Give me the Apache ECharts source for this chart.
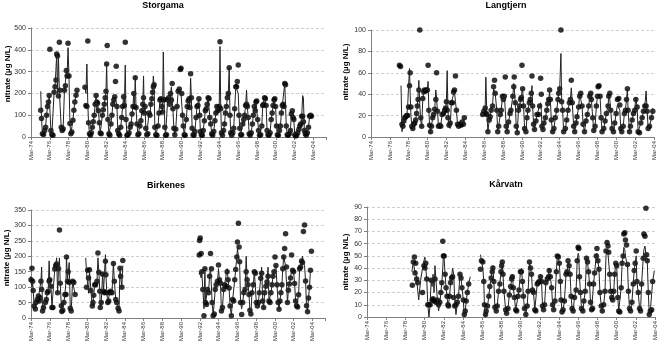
<!DOCTYPE html>
<html><head><meta charset="utf-8">
<script src="https://cdn.jsdelivr.net/npm/echarts@6/dist/echarts.min.js"></script>
<style>html,body{margin:0;padding:0;background:#fff}#c{width:658px;height:351px}</style>
</head><body><div id="c"></div><script>
const xTickLabels = ['Mar-74','Mar-76','Mar-78','Mar-80','Mar-82','Mar-84','Mar-86','Mar-88','Mar-90','Mar-92','Mar-94','Mar-96','Mar-98','Mar-00','Mar-02','Mar-04'];
const panelTitles = ['Storgama','Langtjern','Birkenes','Kårvatn'];
const yAxisTitle = 'nitrate (µg N/L)';

// ---------- Storgama ----------
const storgamaT = [
1975.20,1975.28,1975.38,1975.50,1975.62,1975.72,1975.82,1975.92,1976.02,1976.10,1976.17,1976.28,1976.38,1976.50,
1976.62,1976.72,1976.82,1976.90,1976.98,1977.08,1977.18,1977.25,1977.38,1977.48,1977.58,1977.72,1977.82,1977.92,1978.00,1978.10,1978.20,1978.30,1978.40,1978.50,1978.62,1978.72,1978.82,1978.95,1979.05,1979.50,
1979.90,1980.00,1980.10,1980.20,1980.28,1980.38,1980.48,1980.58,1980.68,1980.78,1980.88,1980.98,1981.08,1981.16,1981.24,1981.32,1981.42,1981.52,1981.62,1981.75,1981.85,1981.95,1982.05,1982.13,1982.20,1982.26,1982.34,1982.44,1982.54,
1982.66,1982.76,1982.86,1982.96,1983.06,1983.14,1983.22,1983.30,1983.38,1983.48,1983.58,1983.70,1983.80,1983.90,1984.00,1984.08,1984.18,1984.26,1984.36,1984.46,1984.58,
1984.70,1984.80,1984.90,1985.00,1985.08,1985.16,1985.24,1985.32,1985.42,1985.52,1985.62,1985.74,1985.84,1985.94,1986.04,1986.12,1986.20,1986.28,1986.36,1986.46,1986.58,
1986.70,1986.80,1986.90,1987.00,1987.08,1987.16,1987.24,1987.32,1987.42,1987.54,1987.66,1987.76,1987.86,1987.96,1988.06,1988.14,1988.22,1988.30,1988.38,1988.46,1988.56,
1988.68,1988.78,1988.88,1988.98,1989.08,1989.16,1989.24,1989.34,1989.44,1989.54,1989.68,1989.80,1989.92,1990.02,1990.10,1990.18,1990.26,1990.34,1990.44,1990.54,
1990.66,1990.76,1990.86,1990.96,1991.04,1991.12,1991.20,1991.28,1991.38,1991.48,1991.58,1991.70,1991.80,1991.90,1992.00,1992.08,1992.16,1992.26,1992.36,1992.46,
1992.58,1992.68,1992.78,1992.88,1992.98,1993.08,1993.16,1993.26,1993.36,1993.46,1993.58,1993.70,1993.80,1993.90,1994.00,1994.08,1994.16,1994.24,1994.32,1994.40,1994.50,
1994.62,1994.72,1994.82,1994.92,1995.02,1995.12,1995.22,1995.30,1995.38,1995.48,1995.60,1995.70,1995.80,1995.92,1996.00,1996.08,1996.18,1996.26,1996.34,1996.44,1996.54,
1996.66,1996.76,1996.86,1996.96,1997.06,1997.14,1997.24,1997.34,1997.44,1997.56,1997.68,1997.78,1997.88,1997.98,1998.06,1998.14,1998.24,1998.34,1998.44,1998.56,
1998.68,1998.78,1998.88,1998.98,1999.06,1999.14,1999.24,1999.34,1999.44,1999.56,1999.68,1999.78,1999.88,1999.98,2000.06,2000.14,2000.24,2000.34,2000.44,
2000.56,2000.66,2000.76,2000.86,2000.96,2001.04,2001.12,2001.20,2001.28,2001.38,2001.48,2001.60,2001.72,2001.82,2001.92,2002.00,2002.08,2002.18,2002.28,2002.38,
2002.50,2002.62,2002.72,2002.82,2002.92,2003.02,2003.10,2003.20,2003.30,2003.40,2003.52,2003.64,2003.76,2003.86,2003.95];
const storgamaObs = [
123,85,15,12,30,45,100,140,160,190,403,30,12,8,
205,231,262,381,372,188,435,215,45,30,38,215,235,305,280,430,280,62,15,23,77,123,161,192,215,null,
228,145,140,440,65,15,8,20,45,70,100,150,190,160,155,120,65,18,15,100,125,150,180,210,335,420,80,15,8,
60,100,150,170,185,255,325,140,30,15,8,45,90,140,185,145,435,80,8,10,20,
45,60,105,140,200,140,272,135,60,10,15,50,75,120,150,180,110,140,40,10,15,
110,100,150,175,205,230,240,45,10,8,50,110,170,175,140,115,170,172,45,8,10,
170,180,150,200,170,245,130,40,10,35,140,210,220,310,315,200,100,50,10,8,
80,140,165,175,135,290,180,40,10,8,25,90,140,145,175,100,25,10,8,30,
75,120,130,150,180,175,90,60,15,8,25,75,110,140,120,130,140,437,130,20,8,
30,60,110,140,180,200,318,100,20,8,20,40,130,230,230,255,330,100,40,10,10,
60,80,100,145,150,140,90,15,8,20,60,100,140,120,160,165,80,30,8,10,
50,145,150,180,175,145,30,10,8,20,80,110,145,170,175,140,50,10,8,
30,50,110,145,150,140,245,240,50,10,8,15,30,105,120,90,80,10,5,8,
20,35,50,60,95,95,70,30,15,8,20,45,95,100,95];
const storgamaSim = [
210,90,15,10,30,50,100,140,160,190,190,30,10,8,
205,231,240,380,200,370,210,215,40,30,40,215,250,300,280,410,280,60,15,20,77,123,161,192,215,null,
228,200,335,150,65,15,8,20,45,70,100,150,190,120,155,130,65,18,15,100,125,150,180,210,335,210,80,15,8,
60,100,150,170,185,180,160,140,30,15,8,45,90,140,185,145,330,80,8,10,20,
45,60,105,140,200,140,280,135,60,10,15,50,75,120,150,280,110,140,40,10,15,
110,100,150,175,205,280,240,45,10,8,50,110,170,175,140,115,390,172,45,8,10,
170,180,150,200,230,170,130,40,10,35,140,210,220,220,200,200,100,50,10,8,
80,140,165,175,135,270,180,40,10,8,25,90,140,145,175,100,25,10,8,30,
75,120,130,150,180,175,90,60,15,8,25,75,110,140,120,130,140,415,130,20,8,
30,60,110,140,180,200,320,100,20,8,20,40,130,230,225,230,200,100,40,10,10,
60,80,100,145,215,140,90,15,8,20,60,100,140,120,160,165,80,30,8,10,
50,145,150,180,175,145,30,10,8,20,80,110,145,170,175,140,50,10,8,
30,50,110,145,150,140,245,240,50,10,8,15,30,105,120,90,80,10,5,8,
20,35,50,60,95,190,180,30,15,8,20,45,95,110,100];

// ---------- Langtjern ----------
const langtjernT = [
1977.18,1977.30,1977.35,1977.45,1977.55,1977.65,1977.75,1977.85,1977.95,1978.05,1978.15,1978.25,1978.32,1978.40,1978.50,1978.60,1978.70,1978.80,1978.90,
1979.00,1979.08,1979.16,1979.24,1979.34,1979.44,1979.54,1979.66,1979.76,1979.84,1979.94,1980.04,1980.14,1980.22,1980.30,1980.38,1980.48,1980.58,1980.70,1980.80,1980.92,
1981.04,1981.12,1981.22,1981.32,1981.44,1981.56,1981.70,1981.86,1981.98,1982.08,1982.16,1982.24,1982.32,1982.44,1982.56,1982.68,1982.80,1982.92,
1983.02,1983.12,1983.22,1983.34,1983.46,1983.58,1983.70,1983.82,1983.96,1984.06,1985.00,
1986.00,1986.13,1986.27,1986.34,1986.45,1986.56,1986.70,1986.80,1986.90,1987.05,1987.16,1987.26,1987.33,1987.50,1987.60,1987.70,1987.87,1987.97,
1988.10,1988.20,1988.30,1988.40,1988.50,1988.60,1988.75,1988.90,1989.00,1989.20,1989.30,1989.35,1989.46,1989.56,1989.67,1989.80,1989.92,
1990.03,1990.10,1990.17,1990.24,1990.34,1990.45,1990.59,1990.70,1990.80,1990.95,1991.05,1991.16,1991.23,1991.30,1991.40,1991.50,1991.65,1991.76,1991.94,
1992.04,1992.15,1992.22,1992.29,1992.40,1992.50,1992.65,1992.80,1992.90,1993.00,1993.10,1993.18,1993.28,1993.42,1993.56,1993.70,1993.85,1993.99,
1994.06,1994.17,1994.30,1994.38,1994.48,1994.59,1994.77,1994.91,1995.05,1995.20,1995.30,1995.40,1995.50,1995.65,1995.76,1995.90,
1996.00,1996.18,1996.29,1996.40,1996.54,1996.65,1996.80,1996.96,1997.10,1997.25,1997.35,1997.46,1997.53,1997.67,1997.78,1997.92,
1998.06,1998.17,1998.24,1998.34,1998.45,1998.56,1998.66,1998.84,1998.98,1999.12,1999.30,1999.37,1999.48,1999.58,1999.72,1999.87,
2000.00,2000.15,2000.29,2000.43,2000.54,2000.65,2000.75,2000.90,2001.03,2001.14,2001.25,2001.35,2001.42,2001.57,2001.67,2001.85,2001.99,
2002.13,2002.24,2002.38,2002.48,2002.63,2002.77,2002.91,2003.05,2003.19,2003.33,2003.44,2003.55,2003.69,2003.90,2004.04];
const langtjernObs = [
67,66,null,12,10,15,18,19,20,20,28,48,60,28,10,8,12,13,16,
22,29,35,44,100,18,10,36,42,44,43,44,44,67,25,11,5,10,18,21,26,
35,60,24,10,11,10,21,22,25,27,33,25,18,11,13,32,32,42,
44,57,25,12,10,12,11,14,12,18,null,
21,24,27,22,21,5,16,19,25,29,47,53,41,25,5,10,21,25,
38,35,38,56,10,5,14,22,25,38,47,56,32,10,4,25,29,
35,37,67,45,29,8,5,18,25,32,35,41,57,29,12,7,15,21,21,
29,55,40,10,7,13,18,25,31,35,44,35,16,5,8,18,25,35,
41,45,100,33,25,5,8,16,25,32,35,53,32,10,5,13,
19,28,38,41,29,12,5,15,21,29,38,41,35,18,6,10,
29,38,47,48,38,18,5,8,15,22,29,38,41,25,8,5,
13,22,35,36,30,8,5,10,22,25,35,45,25,5,10,16,22,
25,35,28,5,4,13,18,24,29,29,24,8,10,18,24];
const langtjernSim = [
null,null,48,5,10,14,18,19,20,28,48,64,40,20,10,8,12,13,16,
22,29,40,53,30,15,10,36,42,44,43,44,44,52,25,10,3,10,18,21,26,
44,35,24,10,11,10,21,22,25,27,33,62,25,10,8,32,32,40,
42,33,25,12,10,12,11,14,12,18,null,
20,24,27,56,21,5,16,19,25,29,45,45,41,25,5,10,21,25,
38,35,40,40,10,5,14,22,25,38,50,47,32,10,4,25,29,
35,37,43,45,29,8,5,18,25,32,35,41,48,29,12,7,15,21,21,
29,32,25,10,7,13,18,25,31,35,42,35,16,5,8,18,25,35,
41,45,78,33,25,5,8,16,25,32,35,46,32,10,5,13,
19,28,41,35,29,12,5,15,21,29,38,42,35,18,6,10,
29,38,39,39,38,18,5,8,15,22,29,39,35,25,8,5,
13,22,30,30,25,8,5,10,22,25,35,45,25,5,10,16,22,
25,37,28,5,4,13,18,24,29,43,24,8,10,18,27];

// ---------- Birkenes ----------
const birkenesT = [
1974.10,1974.17,1974.27,1974.34,1974.40,1974.50,1974.63,1974.70,1974.84,1974.95,1975.05,1975.12,1975.23,1975.30,1975.40,1975.50,1975.70,1975.80,1975.90,1976.00,1976.10,1976.17,1976.30,1976.40,1976.50,
1976.70,1976.80,1976.90,1977.00,1977.10,1977.20,1977.28,1977.40,1977.45,1977.55,1977.67,1977.78,1977.90,1977.95,1978.06,1978.13,1978.24,1978.35,1978.45,1978.60,1978.73,1978.87,1979.40,
1980.00,1980.08,1980.20,1980.30,1980.40,1980.55,1980.70,1980.77,1980.85,1980.95,1981.05,1981.20,1981.30,1981.40,1981.50,1981.55,1981.65,1981.80,1981.90,
1982.00,1982.10,1982.15,1982.25,1982.35,1982.45,1982.55,1982.65,1982.80,1982.95,1983.05,1983.20,1983.30,1983.45,1983.55,1983.65,1983.72,1983.85,1983.95,1988.00,
1992.10,1992.13,1992.20,1992.30,1992.37,1992.48,1992.60,1992.70,1992.77,1992.87,1992.98,1993.08,1993.20,1993.30,1993.40,1993.47,1993.58,1993.70,1993.80,1993.90,
1994.04,1994.15,1994.25,1994.36,1994.46,1994.57,1994.70,1994.80,1994.96,1995.07,1995.17,1995.28,1995.38,1995.52,1995.66,1995.77,1995.88,1995.98,
1996.10,1996.17,1996.27,1996.34,1996.40,1996.50,1996.62,1996.73,1996.84,1996.98,1997.10,1997.20,1997.30,1997.40,1997.50,1997.60,1997.72,1997.86,1997.97,
1998.08,1998.18,1998.29,1998.40,1998.50,1998.65,1998.75,1998.86,1998.96,1999.07,1999.20,1999.32,1999.43,1999.53,1999.64,1999.74,1999.85,1999.96,
2000.06,2000.17,2000.27,2000.38,2000.50,2000.60,2000.70,2000.80,2000.91,2001.00,2001.10,2001.20,2001.30,2001.40,2001.50,2001.60,2001.70,2001.83,2001.94,
2002.05,2002.15,2002.26,2002.37,2002.47,2002.58,2002.69,2002.79,2002.90,2003.00,2003.10,2003.20,2003.32,2003.43,2003.53,2003.64,2003.74,2003.85,2003.95,2004.05];
const birkenesObs = [
null,124,161,119,89,39,29,50,60,71,55,66,119,92,23,34,50,60,82,87,119,124,103,34,34,
159,170,175,82,160,285,113,40,21,25,50,76,76,198,119,150,115,32,23,119,115,76,null,
null,100,155,130,156,89,39,50,74,108,108,119,211,148,87,34,50,142,87,
82,184,140,82,50,55,82,87,82,177,119,60,50,32,23,161,135,100,186,null,
204,251,259,209,150,92,7,160,50,44,92,82,135,209,160,50,7,13,92,108,
119,172,124,113,23,34,92,108,103,150,124,97,39,7,60,55,124,157,
198,246,307,230,182,50,11,50,82,92,150,124,108,76,25,13,82,108,150,
145,50,39,50,82,129,145,55,34,82,103,117,135,55,50,82,108,135,
150,198,170,108,50,28,55,82,108,160,198,225,273,165,50,90,110,130,204,
155,150,112,55,40,36,75,160,165,185,180,280,301,120,40,20,65,100,155,216];
const birkenesSim = [
135,120,100,115,90,40,30,45,55,65,60,70,120,165,25,35,50,60,80,90,185,120,100,35,30,
159,170,195,82,160,195,113,40,21,25,50,76,120,200,119,150,180,32,23,119,115,76,null,
195,150,110,80,156,89,39,50,74,108,108,119,195,148,87,34,50,142,87,
82,205,140,82,50,55,82,87,82,180,119,60,50,32,23,161,135,100,170,null,
140,150,150,130,150,92,30,160,50,44,92,82,135,165,160,50,7,13,92,108,
119,160,124,113,23,34,92,108,103,160,124,97,39,10,60,55,124,157,
198,225,200,190,182,50,30,50,82,92,200,124,108,76,25,13,82,108,150,
150,50,39,50,82,129,165,55,34,82,103,117,165,55,50,82,108,135,
150,160,170,108,50,28,55,82,108,160,198,200,170,165,50,90,110,130,160,
155,150,112,55,40,36,75,160,165,185,200,180,170,120,40,20,65,100,155,155];

// ---------- Kårvatn ----------
const karvatnT = [
1978.85,1978.89,1978.99,1979.10,1979.17,1979.24,1979.34,1979.45,1979.55,1979.75,1979.95,1980.10,1980.20,1980.29,1980.39,1980.50,1980.62,1980.74,1980.85,1980.95,1981.05,1981.15,1981.25,1981.35,1981.50,1981.62,1981.75,1981.86,1981.96,
1982.06,1982.12,1982.20,1982.30,1982.40,1982.50,1982.60,1982.66,1982.77,1982.87,1982.98,1983.08,1983.20,1983.30,1983.43,1983.57,1983.70,1983.85,1983.96,1984.06,1984.20,1984.30,1984.40,1984.50,1984.62,1984.76,1984.92,1985.50,
1985.99,1986.09,1986.23,1986.33,1986.40,1986.51,1986.58,1986.72,1986.86,1986.96,1987.10,1987.21,1987.28,1987.38,1987.49,1987.63,1987.73,1987.87,
1988.01,1988.12,1988.19,1988.26,1988.33,1988.43,1988.61,1988.71,1988.85,1988.99,1989.13,1989.24,1989.31,1989.41,1989.52,1989.66,1989.76,1989.90,
1990.00,1990.15,1990.25,1990.36,1990.46,1990.57,1990.71,1990.85,1990.95,1991.09,1991.20,1991.30,1991.40,1991.51,1991.65,1991.75,1991.90,
1992.00,1992.10,1992.24,1992.35,1992.45,1992.56,1992.66,1992.80,1992.94,1993.08,1993.15,1993.26,1993.40,1993.50,1993.61,1993.75,1993.89,
1993.99,1994.10,1994.20,1994.31,1994.38,1994.48,1994.59,1994.73,1994.90,1995.00,1995.11,1995.22,1995.32,1995.43,1995.53,1995.64,1995.78,1995.95,
1996.06,1996.16,1996.23,1996.30,1996.40,1996.51,1996.65,1996.76,1996.90,1997.03,1997.14,1997.24,1997.35,1997.45,1997.56,1997.66,1997.77,1997.87,
1998.05,1998.12,1998.22,1998.33,1998.43,1998.57,1998.68,1998.82,1998.96,1999.06,1999.17,1999.27,1999.34,1999.45,1999.55,1999.66,1999.76,1999.87,1999.97,
2000.08,2000.18,2000.29,2000.39,2000.50,2000.64,2000.74,2000.85,2000.92,2001.02,2001.09,2001.20,2001.30,2001.40,2001.51,2001.62,2001.76,2001.90,
2002.00,2002.10,2002.21,2002.28,2002.42,2002.56,2002.66,2002.77,2002.94,2003.01,2003.12,2003.22,2003.29,2003.36,2003.47,2003.57,2003.68,2003.82,2003.92,2004.10];
const karvatnObs = [
null,26,45,49,36,44,31,28,null,null,20,42,40,44,31,10,10,10,30,14,15,13,31,12,14,10,12,20,28,
62,50,50,35,24,17,10,9,17,28,32,33,16,9,10,12,17,35,32,24,14,2,5,13,20,27,null,null,
39,46,45,29,10,2,5,9,17,25,32,37,40,29,8,5,9,21,
27,37,42,45,35,21,6,3,7,18,25,31,33,24,16,6,5,17,
22,37,37,29,17,7,2,9,21,45,40,35,22,20,6,5,27,
28,29,33,29,9,6,10,28,31,33,38,33,24,10,6,13,37,
50,49,44,29,14,4,6,13,35,37,46,42,35,17,7,5,16,22,
46,57,56,33,20,7,5,13,21,48,45,37,27,12,6,7,27,36,
50,56,46,39,20,9,5,10,21,54,61,58,53,35,21,16,14,21,35,
44,42,16,5,4,24,44,50,68,69,63,59,43,21,7,5,12,27,
38,44,54,29,20,7,5,27,48,68,66,89,51,46,20,2,5,6,29,null];
const karvatnSim = [
37,40,45,44,36,38,31,22,14,30,40,46,49,40,31,10,0,10,30,25,35,20,42,30,14,5,10,20,28,
40,50,48,35,24,17,8,9,17,28,32,40,35,15,2,10,17,35,32,24,14,0,5,13,20,27,33,null,
51,46,40,29,10,0,5,9,17,25,32,40,42,29,8,5,9,21,
27,37,42,45,35,21,6,3,7,18,25,31,35,24,16,6,5,17,
22,37,40,29,17,7,2,9,21,45,40,35,22,20,6,5,27,
28,29,35,29,9,6,10,28,31,36,40,33,24,10,6,13,37,
50,48,44,29,14,4,6,13,35,37,45,42,35,17,7,5,16,22,
46,52,50,33,20,7,5,13,21,50,45,37,27,12,6,7,27,36,
50,52,46,39,20,9,5,10,21,50,55,52,45,35,21,16,14,21,35,
44,42,16,5,4,24,44,50,57,55,50,45,43,21,7,5,12,27,
38,44,50,29,20,7,5,27,48,55,58,52,51,46,20,2,5,6,29,38];

const MAR74 = 1974 + 2/12;
const toMonths = t => (t - MAR74) * 12;

const panels = [
  {t: storgamaT, obs: storgamaObs, sim: storgamaSim, yMax: 500, yStep: 100, xMax: 376,
   grid: {left: 31, top: 28, width: 295, height: 109}, titleX: 163, titleY: 6, nameX: 8, nameY: 74},
  {t: langtjernT, obs: langtjernObs, sim: langtjernSim, yMax: 100, yStep: 20, xMax: 360,
   grid: {left: 371, top: 30, width: 283, height: 107}, titleX: 506, titleY: 6, nameX: 346, nameY: 72},
  {t: birkenesT, obs: birkenesObs, sim: birkenesSim, yMax: 350, yStep: 50, xMax: 376,
   grid: {left: 31, top: 210, width: 294, height: 108}, titleX: 166, titleY: 186, nameX: 7, nameY: 258},
  {t: karvatnT, obs: karvatnObs, sim: karvatnSim, yMax: 90, yStep: 10, xMax: 360,
   grid: {left: 367, top: 207, width: 288, height: 110}, titleX: 506, titleY: 185, nameX: 346, nameY: 262}
];

const chart = echarts.init(document.getElementById('c'), null, {renderer: 'canvas'});
const grids = [], xAxes = [], yAxes = [], series = [], graphics = [];
panels.forEach((p, i) => {
  grids.push(Object.assign({containLabel: false}, p.grid));
  xAxes.push({
    type: 'value', gridIndex: i, min: 0, max: p.xMax, interval: 24,
    axisLine: {lineStyle: {color: '#808080', width: 1}},
    axisTick: {show: true, length: 3, lineStyle: {color: '#808080'}},
    splitLine: {show: false},
    axisLabel: {
      rotate: 90, fontSize: 6, color: '#333', margin: 4, fontFamily: 'Liberation Sans',
      showMaxLabel: true,
      formatter: v => {
        const k = Math.round(v / 24);
        return (Math.abs(v - k * 24) < 0.01 && k < xTickLabels.length) ? xTickLabels[k] : '';
      }
    }
  });
  yAxes.push({
    type: 'value', gridIndex: i, min: 0, max: p.yMax, interval: p.yStep,
    axisLine: {show: true, lineStyle: {color: '#808080', width: 1}},
    axisTick: {show: true, length: 3, lineStyle: {color: '#808080'}},
    splitLine: {show: true, lineStyle: {color: '#d0d0d0', type: [3, 2], width: 1}},
    axisLabel: {fontSize: 7, color: '#333', margin: 5, fontFamily: 'Liberation Sans'}
  });
  series.push({
    type: 'line', xAxisIndex: i, yAxisIndex: i, showSymbol: false, symbol: 'none',
    connectNulls: false, animation: false,
    lineStyle: {color: '#222', width: 1},
    data: p.t.map((t, j) => [toMonths(t), p.sim[j] == null ? '-' : p.sim[j]])
  });
  series.push({
    type: 'scatter', xAxisIndex: i, yAxisIndex: i, symbol: 'circle', symbolSize: 5.5,
    animation: false, itemStyle: {color: '#000'},
    data: p.t.map((t, j) => p.obs[j] == null ? null : [toMonths(t), p.obs[j]]).filter(d => d)
  });
  graphics.push({
    type: 'text', x: p.titleX, y: p.titleY,
    style: {text: panelTitles[i], font: 'bold 9px "Liberation Sans", Arial, sans-serif', fill: '#000',
      align: 'center', verticalAlign: 'middle', textAlign: 'center', textVerticalAlign: 'middle'}
  });
  graphics.push({
    type: 'text', x: p.nameX, y: p.nameY, rotation: Math.PI / 2,
    style: {text: yAxisTitle, font: 'bold 8px "Liberation Sans", Arial, sans-serif', fill: '#000',
      align: 'center', verticalAlign: 'middle', textAlign: 'center', textVerticalAlign: 'middle'}
  });
});

chart.setOption({
  animation: false,
  backgroundColor: '#fff',
  grid: grids, xAxis: xAxes, yAxis: yAxes, series: series,
  graphic: graphics
});
</script></body></html>
